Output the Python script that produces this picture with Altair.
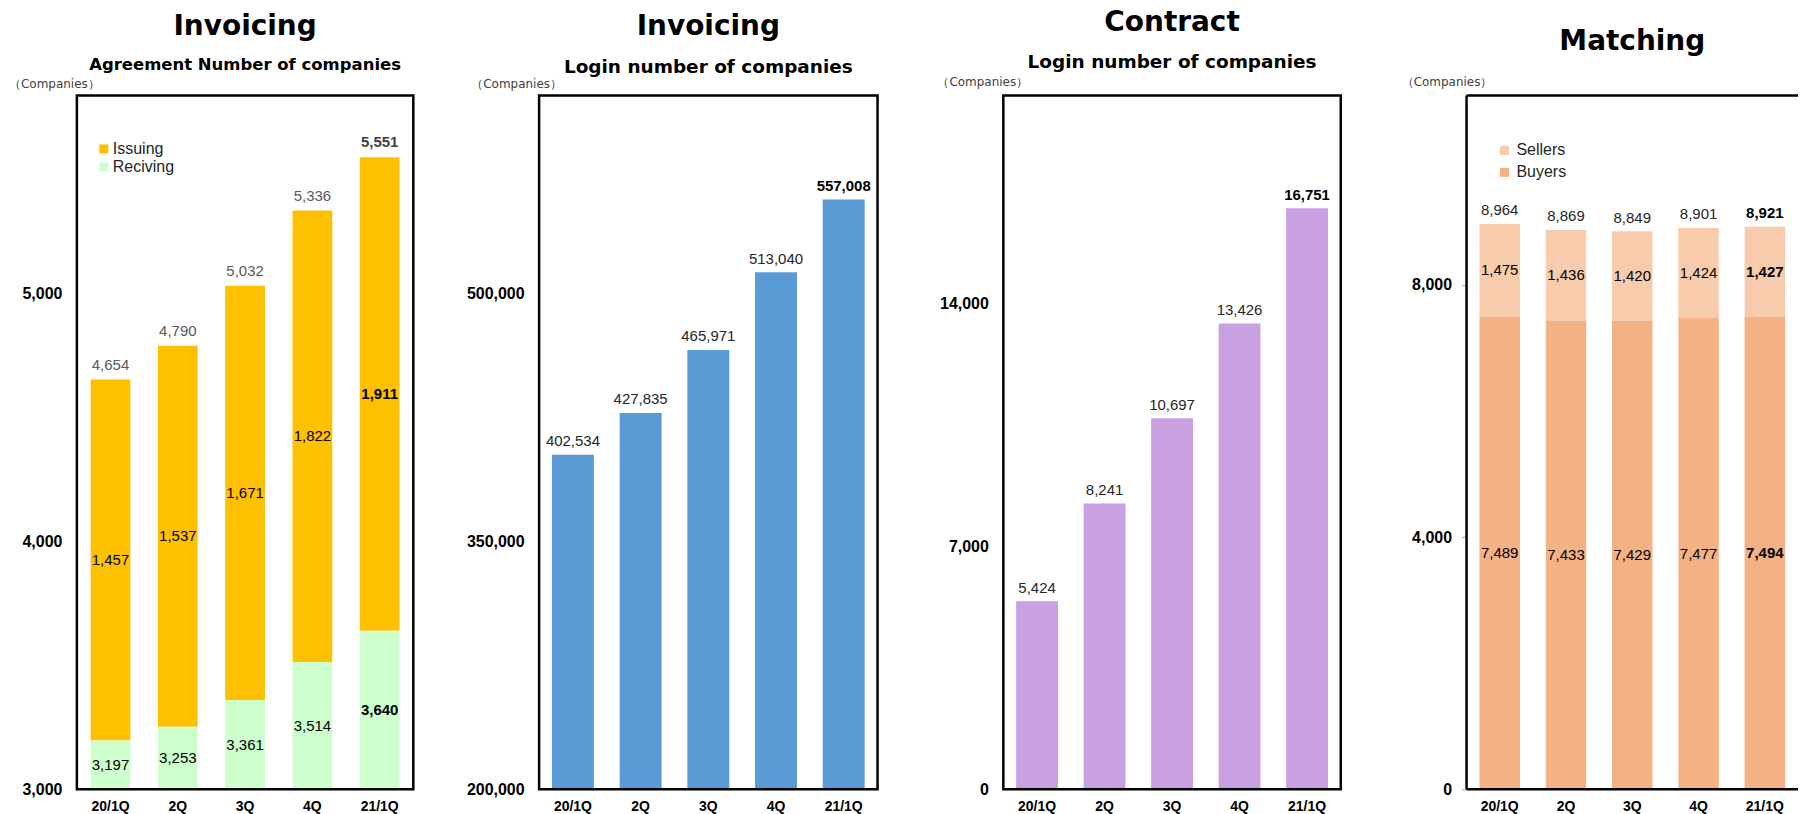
import altair as alt
import pandas as pd

# ---- data -------------------------------------------------------------
quarters = ["20/1Q", "2Q", "3Q", "4Q", "21/1Q"]
latest = "21/1Q"

inv_issuing = [1457, 1537, 1671, 1822, 1911]
inv_receiving = [3197, 3253, 3361, 3514, 3640]
inv_logins = [402534, 427835, 465971, 513040, 557008]
contract_logins = [5424, 8241, 10697, 13426, 16751]
match_buyers = [7489, 7433, 7429, 7477, 7494]
match_sellers = [1475, 1436, 1420, 1424, 1427]

# ---- styling ----------------------------------------------------------
NUM_FONT = "Liberation Sans"
TITLE_FONT = "DejaVu Sans"
UNIT_FONT = "DejaVu Sans"
H = 695
ONE = alt.Data(values=[{}])


def band_x(pad):
    return alt.X(
        "q:N", sort=quarters,
        scale=alt.Scale(paddingInner=pad, paddingOuter=pad / 2),
        axis=alt.Axis(title=None, labelAngle=0, labelFont=NUM_FONT, labelFontSize=14,
                      labelFontWeight="bold", labelColor="black", labelPadding=10,
                      ticks=False, domain=False, grid=False),
    )


def val_y(field, domain, tick_values, tick_marks=False):
    return alt.Y(
        field,
        scale=alt.Scale(domain=domain, zero=False, nice=False),
        axis=alt.Axis(title=None, values=tick_values, format=",d", labelFont=NUM_FONT,
                      labelFontSize=16, labelFontWeight="bold", labelColor="black",
                      labelPadding=10 if tick_marks else 15, ticks=tick_marks,
                      tickSize=5, tickColor="#a6a6a6", domain=False, grid=False),
    )


def heading(W, text, y, size):
    return alt.Chart(ONE).mark_text(
        text=text, font=TITLE_FONT, fontSize=size, fontWeight="bold", color="black",
        align="center", baseline="alphabetic",
    ).encode(x=alt.value(W / 2), y=alt.value(y))


def unit_label(dx, dy):
    return alt.Chart(ONE).mark_text(
        text="（Companies）", font=UNIT_FONT, fontSize=12, color="#404040",
        align="left", baseline="middle",
    ).encode(x=alt.value(dx), y=alt.value(dy))


def frame(W, open_right=False):
    if not open_right:
        return [alt.Chart(ONE).mark_rect(fillOpacity=0, stroke="black", strokeWidth=2.5)
                .encode(x=alt.value(0), x2=alt.value(W), y=alt.value(0), y2=alt.value(H))]
    sides = [
        dict(x=alt.value(0), y=alt.value(0), y2=alt.value(H)),
        dict(x=alt.value(0), x2=alt.value(W), y=alt.value(0)),
        dict(x=alt.value(0), x2=alt.value(W), y=alt.value(H)),
    ]
    return [alt.Chart(ONE).mark_rule(color="black", strokeWidth=2.5).encode(**s) for s in sides]


def value_labels(df, field, x, y, color_reg, color_last, dy=0):
    base = alt.Chart(df).encode(x=x, y=y, text=alt.Text(f"{field}:Q", format=",d"))
    reg = base.transform_filter(alt.datum.q != latest).mark_text(
        font=NUM_FONT, fontSize=15, color=color_reg, baseline="middle", dy=dy)
    last = base.transform_filter(alt.datum.q == latest).mark_text(
        font=NUM_FONT, fontSize=15, fontWeight="bold", color=color_last, baseline="middle", dy=dy)
    return [reg, last]


# ---- panel 1: invoicing agreements (stacked) --------------------------
W1, P1 = 337, 0.41
Y1 = [3000, 5800]
T1 = [3000, 4000, 5000]
inv_total = [r + i for r, i in zip(inv_receiving, inv_issuing)]
seg1 = pd.DataFrame({
    "q": quarters * 2,
    "series": ["Issuing"] * 5 + ["Reciving"] * 5,
    "start": inv_receiving + [0] * 5,
    "end": inv_total + inv_receiving,
    "value": inv_issuing + inv_receiving,
})
seg1["mid"] = (seg1["start"].clip(lower=Y1[0]) + seg1["end"]) / 2
tot1 = pd.DataFrame({"q": quarters, "total": inv_total})

bars1 = alt.Chart(seg1).mark_bar(clip=True).encode(
    x=band_x(P1),
    y=val_y("start:Q", Y1, T1),
    y2="end:Q",
    color=alt.Color(
        "series:N",
        scale=alt.Scale(domain=["Issuing", "Reciving"], range=["#FFC000", "#CCFFCC"]),
        legend=alt.Legend(title=None, orient="none", legendX=19, legendY=45.5,
                          symbolType="square", symbolSize=81, symbolStrokeWidth=0,
                          symbolOpacity=1, labelFont=NUM_FONT, labelFontSize=16,
                          labelColor="#262626", rowPadding=2, labelOffset=1, padding=0),
    ),
)
panel1 = alt.layer(
    bars1,
    *value_labels(seg1, "value", band_x(P1), val_y("mid:Q", Y1, T1), "black", "black"),
    *value_labels(tot1, "total", band_x(P1), val_y("total:Q", Y1, T1), "#595959", "#404040", dy=-15),
    *frame(W1),
    heading(W1, "Invoicing", -61, 28),
    heading(W1, "Agreement Number of companies", -26, 16.5),
    unit_label(-68, -12),
).properties(width=W1, height=H)

# ---- panel 2: invoicing logins ----------------------------------------
W2, P2 = 339, 0.38
Y2 = [200000, 620000]
T2 = [200000, 350000, 500000]
df2 = pd.DataFrame({"q": quarters, "v": inv_logins})
panel2 = alt.layer(
    alt.Chart(df2).mark_bar(clip=True, color="#5B9BD5").encode(
        x=band_x(P2), y=val_y("v:Q", Y2, T2)),
    *value_labels(df2, "v", band_x(P2), val_y("v:Q", Y2, T2), "#262626", "black", dy=-13.5),
    *frame(W2),
    heading(W2, "Invoicing", -61, 28),
    heading(W2, "Login number of companies", -23, 18.5),
    unit_label(-68, -12),
).properties(width=W2, height=H)

# ---- panel 3: contract logins -----------------------------------------
W3, P3 = 338, 0.38
Y3 = [0, 20000]
T3 = [0, 7000, 14000]
df3 = pd.DataFrame({"q": quarters, "v": contract_logins})
panel3 = alt.layer(
    alt.Chart(df3).mark_bar(clip=True, color="#C9A0E2").encode(
        x=band_x(P3), y=val_y("v:Q", Y3, T3)),
    *value_labels(df3, "v", band_x(P3), val_y("v:Q", Y3, T3), "#262626", "black", dy=-13.5),
    *frame(W3),
    heading(W3, "Contract", -65, 28),
    heading(W3, "Login number of companies", -28, 18.5),
    unit_label(-66, -14),
).properties(width=W3, height=H)

# ---- panel 4: matching (stacked) --------------------------------------
W4, P4 = 332, 0.39
Y4 = [0, 11000]
T4 = [0, 4000, 8000]
match_total = [b + s for b, s in zip(match_buyers, match_sellers)]
seg4 = pd.DataFrame({
    "q": quarters * 2,
    "series": ["Sellers"] * 5 + ["Buyers"] * 5,
    "start": match_buyers + [0] * 5,
    "end": match_total + match_buyers,
    "value": match_sellers + match_buyers,
})
seg4["mid"] = (seg4["start"] + seg4["end"]) / 2
tot4 = pd.DataFrame({"q": quarters, "total": match_total})

bars4 = alt.Chart(seg4).mark_bar(clip=True).encode(
    x=band_x(P4),
    y=val_y("start:Q", Y4, T4, tick_marks=True),
    y2="end:Q",
    color=alt.Color(
        "series:N",
        scale=alt.Scale(domain=["Sellers", "Buyers"], range=["#F8CBAD", "#F4B183"]),
        legend=alt.Legend(title=None, orient="none", legendX=30, legendY=47,
                          symbolType="square", symbolSize=81, symbolStrokeWidth=0,
                          symbolOpacity=1, labelFont=NUM_FONT, labelFontSize=16,
                          labelColor="#262626", rowPadding=6, labelOffset=4, padding=0),
    ),
)
panel4 = alt.layer(
    bars4,
    *value_labels(seg4, "value", band_x(P4), val_y("mid:Q", Y4, T4, True), "black", "black"),
    *value_labels(tot4, "total", band_x(P4), val_y("total:Q", Y4, T4, True), "#262626", "black", dy=-13.5),
    *frame(W4, open_right=True),
    heading(W4, "Matching", -46, 28),
    unit_label(-65, -14),
).properties(width=W4, height=H)

chart = (
    alt.hconcat(panel1, panel2, panel3, panel4, spacing=126, bounds="flush")
    .resolve_scale(color="independent", x="independent", y="independent")
    .resolve_legend(color="independent")
    .properties(padding={"left": 8, "top": 7, "right": 0, "bottom": 0}, background="white")
    .configure_view(stroke="transparent")
)

chart.save("out.html", embed_options={"renderer": "svg", "actions": False})
